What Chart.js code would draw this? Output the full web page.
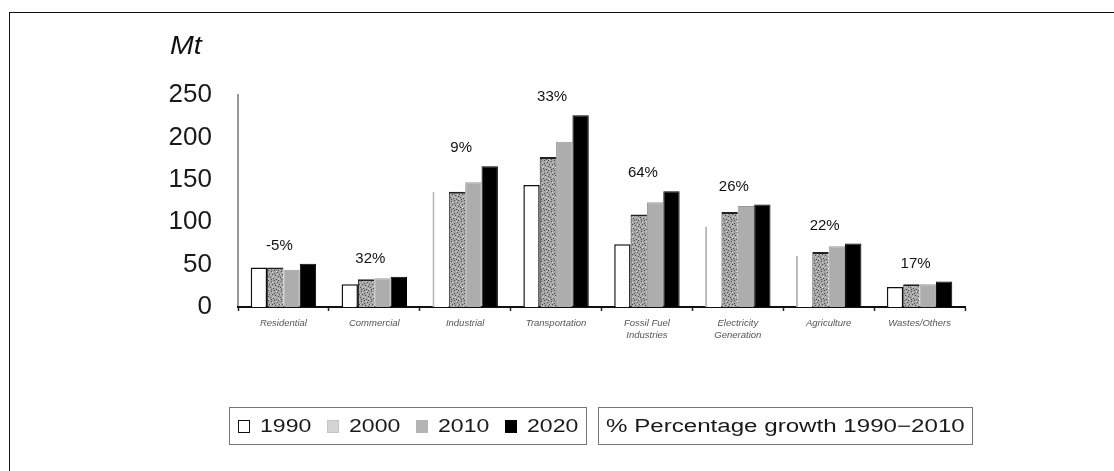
<!DOCTYPE html>
<html>
<head>
<meta charset="utf-8">
<script src="https://cdn.jsdelivr.net/npm/chart.js@4.4.1/dist/chart.umd.min.js"></script>
<style>
  html, body { margin: 0; padding: 0; background: #fff; overflow: hidden; }
  body { width: 1114px; height: 471px; position: relative; font-family: "Liberation Sans", Arial, sans-serif; }
  #frame { position: absolute; left: 9px; top: 12px; width: 1300px; height: 700px; border: 1.5px solid #111; }
  #wrap { position: absolute; left: 0; top: 0; width: 1114px; height: 471px; }
  #unit { position: absolute; left: 170px; top: 30px; font-size: 26px; font-style: italic; color: #111; transform: scaleX(1.1); transform-origin: left; }
  .box { position: absolute; top: 407px; height: 36px; border: 1.5px solid #777; display: flex; align-items: center; font-size: 18px; color: #1a1a1a; }
  #legYears { left: 229px; width: 356px; }
  #legGrowth { left: 598px; width: 373px; }
  .item { display: flex; align-items: center; margin-right: 15px; }
  .sw { width: 12px; height: 13px; margin-right: 10px; box-sizing: border-box; }
  .txt { display: inline-block; transform: scaleX(1.28); transform-origin: left; margin-right: 12px; }
  #legGrowth .txt { transform: scaleX(1.34); }
</style>
</head>
<body>
<div id="frame"></div>
<div id="wrap"><canvas id="chart" width="1114" height="471"></canvas></div>
<div id="unit">Mt</div>
<div class="box" id="legYears"></div>
<div class="box" id="legGrowth"><span class="txt" style="margin-left:7px">% Percentage growth 1990&minus;2010</span></div>
<script>
var categories = ['Residential', 'Commercial', 'Industrial', 'Transportation', ['Fossil Fuel', 'Industries'], ['Electricity', 'Generation'], 'Agriculture', 'Wastes/Others'];
var years = ['1990', '2000', '2010', '2020'];
var values1990 = [46.5, 26.8, 136, 144, 74, 95, 60, 23.6];
var values2000 = [46.5, 32.7, 136, 177, 109, 112, 65, 26.8];
var values2010 = [44, 34, 147, 195, 123.5, 119, 71.6, 26.8];
var values2020 = [51, 35.8, 166, 226, 136.4, 121, 74.8, 30];
var growthLabels = ['-5%', '32%', '9%', '33%', '64%', '26%', '22%', '17%'];
var yTicks = [0, 50, 100, 150, 200, 250];

// speckled texture for the 2000 series
function speckle() {
    var c = document.createElement('canvas');
    c.width = 10; c.height = 10;
    var g = c.getContext('2d');
    g.fillStyle = '#a6a6a6';
    g.fillRect(0, 0, 10, 10);
    var dots = [[1,1],[4,0],[7,2],[2,4],[5,5],[8,6],[0,7],[3,8],[6,9],[9,4],[4,3],[1,9],[8,0]];
    g.fillStyle = '#4a4a4a';
    dots.forEach(function (d) { g.fillRect(d[0], d[1], 1, 1); });
    g.fillStyle = '#d0d0d0';
    [[2,2],[6,1],[8,8],[3,6],[0,4],[7,4],[5,7],[9,9],[2,7]].forEach(function (d) { g.fillRect(d[0], d[1], 1, 1); });
    return g.createPattern(c, 'repeat');
}

var pattern2000 = speckle();
var fills = ['#ffffff', pattern2000, '#adadad', '#000000'];
var swatchCss = [
    'background:#fff;border:1.5px solid #111;',
    'background:#d4d4d4;border:1px solid #c4c4c4;',
    'background:#b4b4b4;',
    'background:#000;'
];

var leg = document.getElementById('legYears');
years.forEach(function (y, i) {
    var it = document.createElement('div');
    it.className = 'item';
    it.style.marginLeft = i === 0 ? '8px' : '0px';
    it.innerHTML = '<span class="sw" style="' + swatchCss[i] + '"></span><span class="txt">' + y + '</span>';
    leg.appendChild(it);
});

var faded = [2, 5, 6];

var growthPlugin = {
    id: 'growth',
    afterDatasetsDraw: function (chart) {
        var ctx = chart.ctx;
        ctx.save();
        ctx.font = '15px "Liberation Sans", Arial, sans-serif';
        ctx.fillStyle = '#111';
        ctx.textAlign = 'center';
        ctx.textBaseline = 'middle';
        for (var i = 0; i < categories.length; i++) {
            var top = Infinity;
            chart.data.datasets.forEach(function (ds, d) {
                var el = chart.getDatasetMeta(d).data[i];
                if (el.y < top) top = el.y;
            });
            var x = chart.scales.x.getPixelForValue(i);
            ctx.fillText(growthLabels[i], x - 4, top - 18);
        }
        ctx.restore();
    }
};

new Chart(document.getElementById('chart'), {
    type: 'bar',
    data: {
        labels: categories,
        datasets: [
            { label: years[0], data: values1990, backgroundColor: fills[0],
              borderColor: function (c) { return faded.indexOf(c.dataIndex) >= 0 ? '#b8b8b8' : '#111'; },
              borderWidth: function (c) { return faded.indexOf(c.dataIndex) >= 0 ? { left: 2, top: 0, right: 0, bottom: 0 } : 1.5; } },
            { label: years[1], data: values2000, backgroundColor: fills[1], borderColor: '#222', borderWidth: { left: 1, top: 2, right: 0, bottom: 0 } },
            { label: years[2], data: values2010, backgroundColor: fills[2], borderColor: '#999', borderWidth: 1 },
            { label: years[3], data: values2020, backgroundColor: fills[3], borderColor: '#000', borderWidth: 1 }
        ]
    },
    options: {
        responsive: false,
        animation: false,
        datasets: { bar: { categoryPercentage: 0.72, barPercentage: 1.0 } },
        layout: { padding: { left: 150, top: 95, right: 149, bottom: 0 } },
        plugins: { legend: { display: false }, tooltip: { enabled: false } },
        scales: {
            y: {
                min: 0, max: 250,
                afterFit: function (s) { s.width = 88; },
                afterBuildTicks: function (s) { s.ticks = yTicks.map(function (v) { return { value: v }; }); },
                grid: { display: false, drawTicks: false },
                border: { display: true, color: '#999', width: 2 },
                ticks: { padding: 26, color: '#1a1a1a', font: { size: 26, family: '"Liberation Sans", Arial, sans-serif' } }
            },
            x: {
                afterFit: function (s) { s.height = 164; },
                grid: { display: true, drawOnChartArea: false, offset: true, tickLength: 4, color: '#222', tickWidth: 1.5 },
                border: { display: true, color: '#111', width: 2 },
                ticks: { padding: 7, color: '#555', maxRotation: 0, autoSkip: false,
                         font: { size: 9.5, style: 'italic', family: '"Liberation Sans", Arial, sans-serif' } }
            }
        }
    },
    plugins: [growthPlugin]
});
</script>
</body>
</html>
